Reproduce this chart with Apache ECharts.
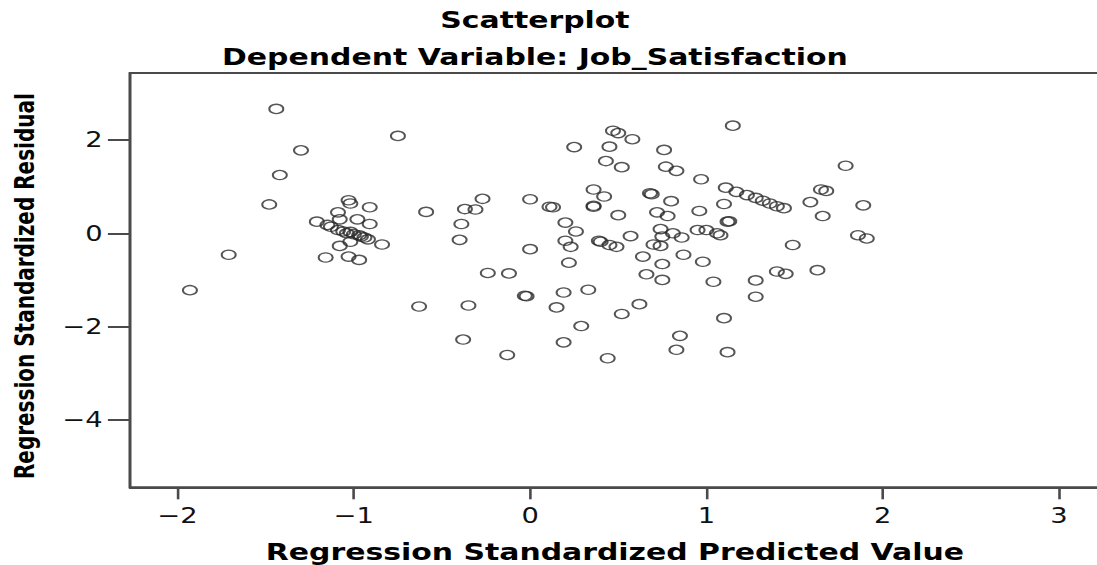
<!DOCTYPE html>
<html>
<head>
<meta charset="utf-8">
<title>Scatterplot</title>
<script src="https://cdn.jsdelivr.net/npm/echarts@6/dist/echarts.min.js"></script>
<style>
html,body{margin:0;padding:0;background:#fff;overflow:hidden;width:1097px;height:565px;}
#chart{width:844px;height:565px;transform:scaleX(1.3);transform-origin:0 0;}
</style>
</head>
<body>
<div id="chart"></div>
<script>
// Regression Standardized Predicted Value (x)
const predicted = [
  -1.93,-1.71,-1.48,-1.44,-1.42,-1.30,-0.75,-0.59,-0.63,
  -1.03,-1.02,-0.91,-1.09,-1.21,-1.15,-1.08,-0.98,-0.91,-1.13,-1.09,-1.04,-1.02,-1.00,-0.97,-0.94,-0.92,-0.84,-1.02,-1.08,-1.16,-1.03,-0.97,-1.06,-0.96,
  -0.27,-0.37,-0.31,-0.39,-0.40,-0.24,-0.12,-0.35,-0.38,-0.13,-0.03,-0.02,
  0.00,0.00,0.11,0.13,0.15,0.19,0.19,0.20,0.20,0.22,0.23,0.25,0.26,0.29,0.33,0.36,0.36,0.36,0.39,0.40,0.42,0.43,0.44,0.45,0.45,0.47,0.49,0.50,0.50,0.52,0.52,0.57,0.58,0.62,0.64,0.66,0.68,0.69,0.70,0.72,0.74,0.74,0.75,0.75,0.75,0.76,0.77,0.78,0.80,0.81,0.83,0.83,0.85,0.86,0.87,0.95,0.96,0.97,0.98,1.00,1.04,1.06,1.08,1.10,1.10,1.11,1.12,1.12,1.13,1.15,
  1.17,1.23,1.28,1.32,1.36,1.40,1.44,
  1.28,1.28,1.40,1.45,1.49,1.59,1.63,1.65,1.68,1.66,1.79,1.86,1.89,1.91
];
// Regression Standardized Residual (y)
const residual = [
  -1.22,-0.46,0.62,2.67,1.25,1.78,2.09,0.46,-1.57,
  0.71,0.64,0.56,0.45,0.25,0.18,0.30,0.30,0.20,0.14,0.07,0.00,0.03,-0.02,-0.04,-0.09,-0.13,-0.24,-0.18,-0.27,-0.52,-0.50,-0.57,0.04,-0.07,
  0.74,0.52,0.51,0.20,-0.14,-0.85,-0.86,-1.55,-2.28,-2.61,-1.34,-1.35,
  0.73,-0.34,0.57,0.56,-1.59,-1.27,-2.34,0.23,-0.16,-0.63,-0.29,1.85,0.04,-1.99,-1.21,0.94,0.59,0.57,-0.16,-0.18,0.79,1.55,-2.68,1.86,-0.25,2.20,-0.29,2.15,0.39,1.42,-1.73,-0.06,2.02,-1.52,-0.50,-0.88,0.86,0.84,-0.24,0.45,0.09,-0.27,-0.07,-1.00,-0.66,1.79,1.43,0.37,0.69,0.00,1.34,-2.50,-2.20,-0.09,-0.46,0.07,0.48,1.16,-0.61,0.07,-1.04,0.00,-0.04,-1.82,0.63,0.98,-2.55,0.25,0.26,2.31,
  0.89,0.82,0.76,0.70,0.64,0.58,0.54,
  -1.01,-1.36,-0.82,-0.87,-0.25,0.67,-0.79,0.94,0.91,0.37,1.45,-0.04,0.60,-0.11
];
const xTicks = [-2, -1, 0, 1, 2, 3];
const yTicks = [-4, -2, 0, 2];
const chartTitle = 'Scatterplot';
const chartSubtitle = 'Dependent Variable: Job_Satisfaction';
const xName = 'Regression Standardized Predicted Value';
const yName = 'Regression Standardized Residual';

const points = predicted.map((x, i) => [x, residual[i]]);
const fmt = v => (v < 0 ? '\u2212' + Math.abs(v) : String(v));
const FONT = "'DejaVu Sans', sans-serif";
const axisColor = '#4a4a4a';

const chart = echarts.init(document.getElementById('chart'), null, { renderer: 'svg' });
chart.setOption({
  animation: false,
  backgroundColor: '#fff',
  title: [
    { text: chartTitle, left: 411.5, top: 8, textAlign: 'center', padding: 0,
      textStyle: { fontFamily: FONT, fontWeight: 'bold', fontSize: 23, color: '#000' } },
    { text: chartSubtitle, left: 411.5, top: 45, textAlign: 'center', padding: 0,
      textStyle: { fontFamily: FONT, fontWeight: 'bold', fontSize: 23, color: '#000' } }
  ],
  grid: { left: 100, top: 73, width: 746, height: 414.3, show: true,
          borderColor: axisColor, borderWidth: 2, backgroundColor: '#fff',
          containLabel: false, outerBoundsMode: 'none' },
  xAxis: {
    type: 'value', min: -2.27, max: 3.232,
    name: xName, nameLocation: 'middle', nameGap: 53,
    nameTextStyle: { fontFamily: FONT, fontWeight: 'bold', fontSize: 23, color: '#000' },
    axisLine: { show: true, onZero: false, lineStyle: { color: axisColor, width: 2 } },
    axisTick: { show: true, length: 12, customValues: xTicks, lineStyle: { color: axisColor, width: 2 } },
    axisLabel: { customValues: xTicks, formatter: fmt, margin: 18,
                 fontFamily: FONT, fontSize: 21, color: '#111' },
    splitLine: { show: false }
  },
  yAxis: {
    type: 'value', min: -5.45, max: 3.44,
    name: yName, nameLocation: 'middle', nameGap: 71, nameRotate: 90,
    nameTextStyle: { fontFamily: FONT, fontWeight: 'bold', fontSize: 20, color: '#000',
                     padding: [0, 12, 0, 0] },
    axisLine: { show: true, onZero: false, lineStyle: { color: axisColor, width: 2 } },
    axisTick: { show: true, length: 17, customValues: yTicks, lineStyle: { color: axisColor, width: 2 } },
    axisLabel: { customValues: yTicks, formatter: fmt, margin: 21,
                 fontFamily: FONT, fontSize: 21, color: '#111' },
    splitLine: { show: false }
  },
  series: [{
    type: 'scatter',
    data: points,
    symbol: 'circle',
    symbolSize: [10.8, 9.2],
    itemStyle: { color: 'rgba(255,255,255,0)', borderColor: '#2a2a2a', borderWidth: 1.4 },
    emphasis: { disabled: true }
  }]
});
</script>
</body>
</html>
